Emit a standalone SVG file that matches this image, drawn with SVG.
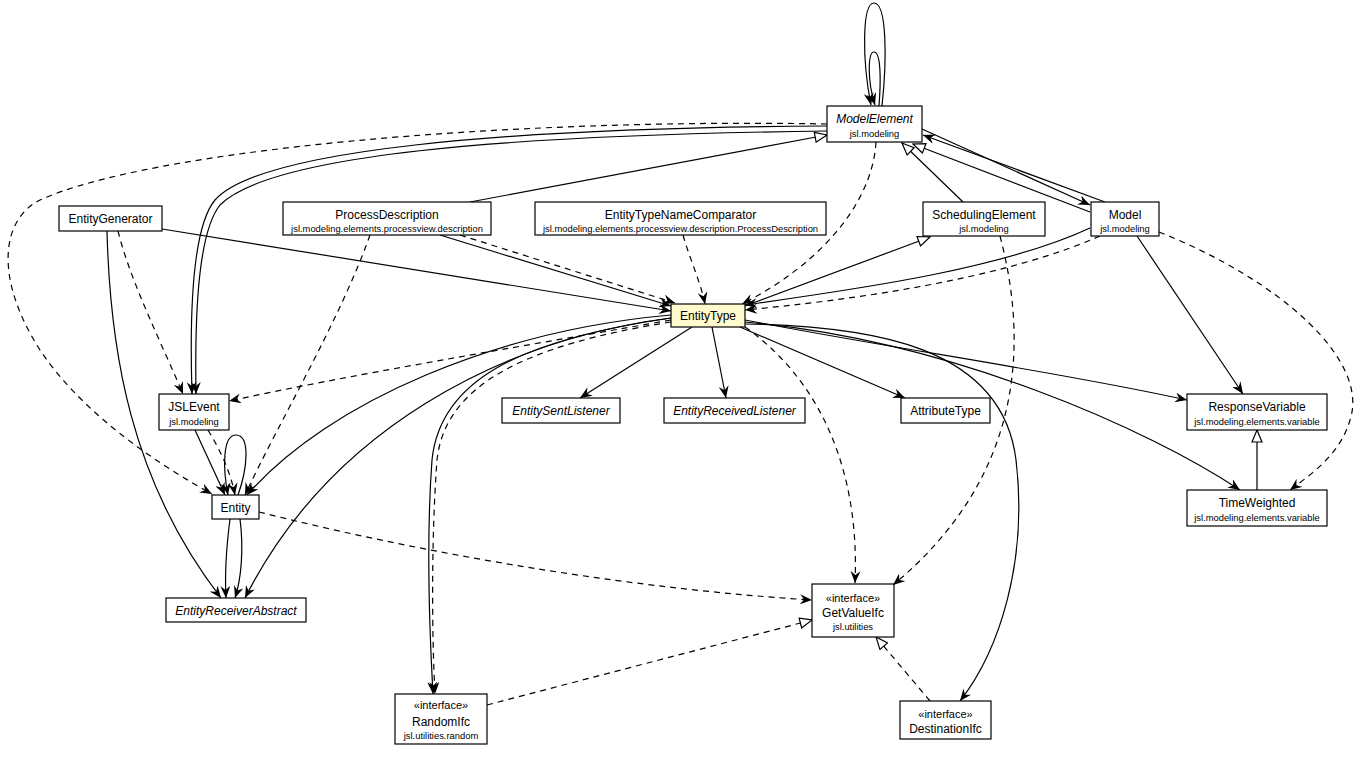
<svg xmlns="http://www.w3.org/2000/svg" width="1363" height="757" viewBox="0 0 1363 757">
<style>
text{font-family:"Liberation Sans",Arial,sans-serif;fill:#000;text-anchor:middle}
.n{font-size:12px}
.i{font-size:12px;font-style:italic}
.p{font-size:9.4px}
.st{font-size:11px}
rect{fill:#fff;stroke:#000;stroke-width:1.2}
.f{fill:#fffacd}
#edges path{fill:none;stroke:#000;stroke-width:1.2}
#edges .d{stroke-dasharray:6,5}
#edges .s,#edges .d{marker-end:url(#v)}
#edges .g{marker-end:url(#t)}
#edges .r{stroke-dasharray:6,5;marker-end:url(#t)}
</style>
<defs>
<marker id="v" viewBox="0 0 12 10" refX="12" refY="5" markerWidth="12" markerHeight="10" markerUnits="userSpaceOnUse" orient="auto"><path d="M0,0 L12,5 L0,10 L4,5 Z" fill="#000"/></marker>
<marker id="t" viewBox="-1 -1 14 12" refX="12" refY="5" markerWidth="14" markerHeight="12" markerUnits="userSpaceOnUse" orient="auto"><path d="M0,0 L12,5 L0,10 Z" fill="#fff" stroke="#000" stroke-width="1.2"/></marker>
</defs>
<rect x="0" y="0" width="1363" height="757" style="fill:#fff;stroke:none"/>
<g id="edges">
<path class="s" d="M882,106 C887,60 887,3 874,3 C862,3 862,60 871,105"/>
<path class="s" d="M879,106 C881,80 881,52 874,52 C868,52 867,80 875,105"/>
<path class="s" d="M827,126 C500,128 260,150 215,200 C190,230 190,330 192,394"/>
<path class="s" d="M827,131 C500,135 270,155 220,205 C196,235 195,330 196,394"/>
<path class="d" d="M827,124 C500,118 150,150 40,200 C0,220 -5,280 40,350 C80,410 150,460 212,494"/>
<path class="d" d="M876,142 C872,210 810,270 742,304"/>
<path class="g" d="M470,202 L827,135"/>
<path class="s" d="M440,235 L671,306"/>
<path class="d" d="M460,235 L675,303"/>
<path class="d" d="M370,235 C340,320 280,420 245,495"/>
<path class="d" d="M683,235 C690,260 700,280 705,304"/>
<path class="s" d="M162,229 L671,311"/>
<path class="d" d="M118,231 C130,280 160,340 183,394"/>
<path class="s" d="M107,231 C110,350 130,480 221,598"/>
<path class="g" d="M963,202 L902,143"/>
<path class="g" d="M1090,212 L913,144"/>
<path class="s" d="M1105,202 L923,135"/>
<path class="s" d="M922,129 L1090,205"/>
<path class="g" d="M745,306 L930,237"/>
<path class="d" d="M1000,236 C1030,350 1020,480 893,585"/>
<path class="s" d="M1090,228 C1000,270 850,290 745,305"/>
<path class="d" d="M1100,236 C1000,280 850,300 745,310"/>
<path class="s" d="M1137,236 L1243,394"/>
<path class="d" d="M1159,232 C1280,280 1370,360 1350,420 C1340,455 1310,475 1290,490"/>
<path class="s" d="M692,327 L580,398"/>
<path class="s" d="M712,327 L726,398"/>
<path class="s" d="M740,327 L905,398"/>
<path class="d" d="M745,327 C820,380 860,470 855,583"/>
<path class="s" d="M745,320 C900,350 1050,370 1187,400"/>
<path class="s" d="M745,322 C950,340 1150,430 1240,490"/>
<path class="s" d="M745,324 C870,326 1002,345 1016,460 C1028,560 1000,650 960,701"/>
<path class="d" d="M671,320 C500,350 350,375 229,401"/>
<path class="s" d="M671,315 C500,330 330,400 247,495"/>
<path class="s" d="M671,318 C500,340 330,430 245,598"/>
<path class="s" d="M671,318 C520,340 440,380 432,460 C426,540 430,640 433,694"/>
<path class="d" d="M671,322 C525,345 445,385 437,460 C431,540 432,640 435,694"/>
<path class="s" d="M238,495 C247,470 251,435 236,435 C222,435 223,470 228,495"/>
<path class="s" d="M230,519 C226,550 225,580 226,598"/>
<path class="s" d="M240,519 C244,550 241,580 235,598"/>
<path class="d" d="M259,512 C450,560 650,590 812,600"/>
<path class="s" d="M195,430 L225,495"/>
<path class="d" d="M208,430 C220,450 230,470 235,495"/>
<path class="r" d="M487,705 L812,620"/>
<path class="r" d="M930,701 L876,637"/>
<path class="g" d="M1257,490 L1257,430"/>
</g>
<g id="ModelElement"><rect x="827" y="106" width="95" height="36"/><text class="i" x="874.5" y="123">ModelElement</text><text class="p" x="874.5" y="137">jsl.modeling</text></g>
<g id="EntityGenerator"><rect x="59" y="206" width="103" height="25"/><text class="n" x="110.5" y="223">EntityGenerator</text></g>
<g id="ProcessDescription"><rect x="283" y="202" width="208" height="33"/><text class="n" x="387" y="219">ProcessDescription</text><text class="p" x="387" y="232">jsl.modeling.elements.processview.description</text></g>
<g id="EntityTypeNameComparator"><rect x="535" y="202" width="291" height="33"/><text class="n" x="680.5" y="219">EntityTypeNameComparator</text><text class="p" x="680.5" y="232">jsl.modeling.elements.processview.description.ProcessDescription</text></g>
<g id="SchedulingElement"><rect x="923" y="202" width="122" height="34"/><text class="n" x="984" y="219">SchedulingElement</text><text class="p" x="984" y="232">jsl.modeling</text></g>
<g id="Model"><rect x="1091" y="202" width="68" height="34"/><text class="n" x="1125" y="219">Model</text><text class="p" x="1125" y="232">jsl.modeling</text></g>
<g id="EntityType"><rect class="f" x="671" y="304" width="74" height="23"/><text class="n" x="708" y="320">EntityType</text></g>
<g id="JSLEvent"><rect x="159" y="394" width="70" height="36"/><text class="n" x="194" y="411">JSLEvent</text><text class="p" x="194" y="425">jsl.modeling</text></g>
<g id="Entity"><rect x="212" y="495" width="47" height="24"/><text class="n" x="235.5" y="512">Entity</text></g>
<g id="EntitySentListener"><rect x="502" y="398" width="118" height="25"/><text class="i" x="561" y="415">EntitySentListener</text></g>
<g id="EntityReceivedListener"><rect x="664" y="398" width="141" height="25"/><text class="i" x="734.5" y="415">EntityReceivedListener</text></g>
<g id="AttributeType"><rect x="901" y="398" width="89" height="25"/><text class="n" x="945.5" y="415">AttributeType</text></g>
<g id="ResponseVariable"><rect x="1187" y="394" width="140" height="36"/><text class="n" x="1257" y="411">ResponseVariable</text><text class="p" x="1257" y="425">jsl.modeling.elements.variable</text></g>
<g id="TimeWeighted"><rect x="1187" y="490" width="140" height="36"/><text class="n" x="1257" y="507">TimeWeighted</text><text class="p" x="1257" y="521">jsl.modeling.elements.variable</text></g>
<g id="EntityReceiverAbstract"><rect x="166" y="598" width="140" height="24"/><text class="i" x="236" y="615">EntityReceiverAbstract</text></g>
<g id="GetValueIfc"><rect x="812" y="584" width="82" height="53"/><text class="st" x="853" y="602">«interface»</text><text class="n" x="853" y="617">GetValueIfc</text><text class="p" x="853" y="630">jsl.utilities</text></g>
<g id="RandomIfc"><rect x="395" y="694" width="92" height="50"/><text class="st" x="441" y="709">«interface»</text><text class="n" x="441" y="726">RandomIfc</text><text class="p" x="441" y="739">jsl.utilities.random</text></g>
<g id="DestinationIfc"><rect x="900" y="701" width="91" height="38"/><text class="st" x="945.5" y="718">«interface»</text><text class="n" x="945.5" y="733">DestinationIfc</text></g>
</svg>
